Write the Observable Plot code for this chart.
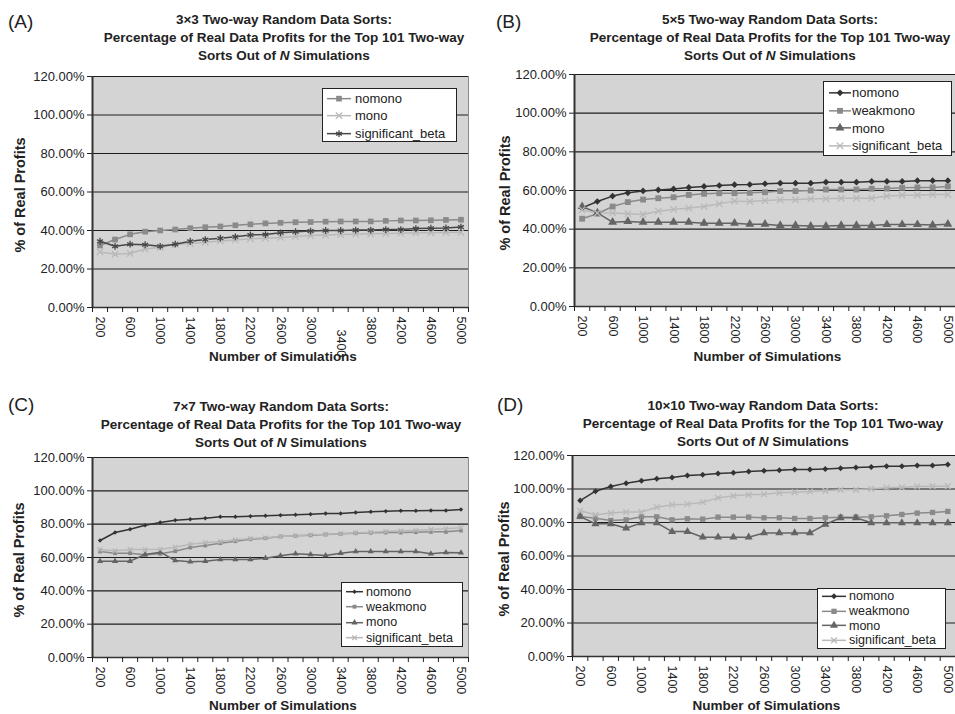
<!DOCTYPE html>
<html><head><meta charset="utf-8">
<script src="https://cdn.jsdelivr.net/npm/d3@7"></script>
<script src="https://cdn.jsdelivr.net/npm/@observablehq/plot@0.6"></script>
<style>
body{margin:0;background:#fff;font-family:"Liberation Sans",Arial,sans-serif;color:#222;}
#root{position:relative;width:955px;height:714px;overflow:hidden;background:#fff;}
.abs{position:absolute;}
.tag{font-size:19px;line-height:19px;}
.title{font-weight:bold;font-size:13.5px;line-height:18px;text-align:center;white-space:nowrap;}
.ytitle{font-weight:bold;font-size:14.5px;white-space:nowrap;transform:translate(-50%,-50%) rotate(-90deg);}
.xtitle{font-weight:bold;font-size:13.5px;line-height:15px;white-space:nowrap;transform:translate(-50%,-50%);}
.legend{background:#fff;border:1px solid #222;box-sizing:border-box;}
.row{display:flex;align-items:center;white-space:nowrap;}
svg.plot{overflow:visible;}
</style></head>
<body><div id="root"></div>
<script>
const sims = [200,400,600,800,1000,1200,1400,1600,1800,2000,2200,2400,2600,2800,3000,3200,3400,3600,3800,4000,4200,4400,4600,4800,5000];
const xLabels = [200,600,1000,1400,1800,2200,2600,3000,3400,3800,4200,4600,5000];
const yTicks = [0,20,40,60,80,100,120];

// Panel A (3x3)
const A_nomono = [32.2,35.3,38.0,39.4,40.0,40.5,41.2,41.7,42.1,42.7,43.2,43.7,44.0,44.3,44.4,44.6,44.7,44.7,44.7,45.0,45.2,45.2,45.3,45.5,45.6];
const A_mono   = [28.9,27.7,28.1,30.4,31.3,32.7,33.2,33.9,34.6,35.1,35.7,36.0,36.4,36.9,37.4,37.6,37.9,38.1,38.3,38.4,38.6,38.8,38.8,39.0,39.1];
const A_sig    = [34.4,31.8,32.9,32.6,31.8,32.9,34.4,35.3,36.0,36.7,37.7,37.9,38.8,39.4,39.7,40.0,40.0,40.2,40.2,40.5,40.5,41.0,41.2,41.3,41.8];
// Panel B (5x5)
const B_nomono = [51.0,54.3,57.1,58.8,59.8,60.3,60.8,61.6,62.1,62.6,63.0,63.1,63.5,63.8,63.8,63.8,64.3,64.3,64.3,64.7,64.7,64.7,65.1,65.1,65.1];
const B_weak   = [45.4,48.0,51.7,54.0,55.3,56.0,56.5,57.7,58.3,58.6,58.6,58.8,59.1,59.7,59.7,60.0,60.5,60.5,60.5,60.9,61.0,61.4,61.6,61.6,62.1];
const B_mono   = [51.7,48.4,43.6,44.0,43.6,43.6,43.6,43.6,43.1,43.1,43.1,42.6,42.6,41.9,41.9,41.6,41.6,41.9,41.9,41.9,42.4,42.4,42.4,42.1,42.6];
const B_sig    = [50.0,48.4,48.4,48.0,47.6,49.3,50.2,50.9,51.7,53.1,54.5,54.3,54.8,55.2,55.2,55.7,55.7,56.0,56.0,56.0,57.1,57.6,57.6,57.9,57.9];
// Panel C (7x7)
const C_nomono = [70.2,75.0,77.0,79.4,81.0,82.4,83.0,83.6,84.4,84.4,84.8,85.0,85.4,85.6,86.0,86.4,86.4,87.0,87.4,87.8,88.0,88.0,88.2,88.2,88.8];
const C_weak   = [63.6,62.6,62.6,61.6,62.2,63.8,66.0,67.2,68.6,69.8,71.0,71.6,72.6,73.0,73.4,73.8,74.2,74.6,74.8,75.0,75.0,75.2,75.4,75.4,76.2];
const C_mono   = [57.8,57.8,57.8,61.8,63.2,58.2,57.4,57.8,58.8,58.8,58.8,59.6,61.0,62.2,61.8,61.2,62.6,63.6,63.6,63.6,63.6,63.6,62.2,63.0,62.8];
const C_sig    = [64.8,64.0,64.8,64.8,65.0,66.2,68.0,68.8,69.6,70.6,71.4,71.8,72.6,73.0,73.6,74.0,74.2,74.8,75.2,75.6,76.0,76.4,76.8,77.2,77.8];
// Panel D (10x10)
const D_nomono = [93.1,98.7,101.5,103.5,104.9,106.1,106.9,108.1,108.5,109.3,109.7,110.4,110.9,111.2,111.6,111.6,112.0,112.4,112.8,113.2,113.6,113.6,114.0,114.0,114.6];
const D_weak   = [83.6,82.6,81.2,81.6,83.4,83.4,81.6,82.2,82.0,83.2,83.2,83.2,82.8,82.8,82.4,82.4,82.8,83.2,83.2,83.4,84.0,84.8,85.6,86.0,86.6];
const D_mono   = [83.6,79.2,79.2,76.6,79.8,79.8,74.6,74.6,71.2,71.2,71.2,71.2,73.8,73.8,73.8,73.8,78.8,82.8,82.8,79.8,79.8,79.8,79.8,79.8,79.8];
const D_sig    = [87.0,84.6,85.6,86.2,86.2,89.1,90.6,90.9,92.1,94.7,95.9,96.5,96.9,97.7,98.1,98.5,98.9,99.5,99.5,100.1,100.7,101.0,101.5,101.7,101.7];

const C_DARK = "#333333", C_MID = "#8a8a8a", C_MONO = "#646464", C_LIGHT = "#b9b9b9";
const root = document.getElementById("root");
const step = sims[1] - sims[0];
const edges = sims.map(s => s - step / 2).concat([sims[sims.length - 1] + step / 2]);

function el(cls, html, style) {
  const d = document.createElement("div");
  d.className = "abs " + cls;
  d.innerHTML = html;
  Object.assign(d.style, style);
  root.appendChild(d);
  return d;
}

function panel(cfg) {
  const rows = [];
  cfg.series.forEach(s => s.values.forEach((v, i) => rows.push({series: s.name, sim: sims[i], v})));
  const marks = [
    Plot.frame({fill: "#d4d4d4", stroke: "#8a8a8a"}),
    Plot.ruleY(yTicks, {stroke: "#1e1e1e", strokeWidth: 1.1})
  ];
  for (const s of cfg.series) {
    marks.push(Plot.line(rows.filter(r => r.series === s.name), {x: "sim", y: "v", stroke: s.color, strokeWidth: 1.5}));
  }
  for (const s of cfg.series) {
    const stroked = s.symbol === "times" || s.symbol === "asterisk";
    marks.push(Plot.dot(rows.filter(r => r.series === s.name), {
      x: "sim", y: "v", symbol: s.symbol, r: s.r,
      fill: stroked ? "none" : s.color, stroke: stroked ? s.color : "none", strokeWidth: stroked ? 1.3 : 0
    }));
  }
  const labs = xLabels.filter(t => t !== cfg.displaced);
  const fmt = d => String(d);
  marks.push(
    Plot.ruleX([edges[0]], {stroke: "#333", strokeWidth: 2}),
    Plot.ruleY([0], {stroke: "#333", strokeWidth: 1.5}),
    Plot.axisY(yTicks, {tickFormat: d => d.toFixed(2) + "%", tickSize: 5, tickPadding: 3, fontSize: 13, label: null}),
    Plot.axisX(edges, {tickSize: 5, tickFormat: () => "", label: null}),
    Plot.axisX(labs, {tickSize: 0, tickRotate: 90, tickPadding: 9, fontSize: 12.5, tickFormat: fmt, label: null})
  );
  if (cfg.displaced) marks.push(Plot.axisX([cfg.displaced], {tickSize: 0, tickRotate: 90, tickPadding: 22, fontSize: 12.5, tickFormat: fmt, label: null}));
  const svg = Plot.plot({
    width: cfg.w, height: cfg.h,
    marginLeft: cfg.ml, marginRight: cfg.mr, marginTop: cfg.mt, marginBottom: cfg.mb,
    style: {fontFamily: "Liberation Sans, Arial, sans-serif", fontSize: "12.5px", color: "#222", background: "transparent", overflow: "visible"},
    x: {domain: [edges[0], edges[edges.length - 1]]},
    y: {domain: [0, 120]},
    marks
  });
  const holder = el("", "", {left: cfg.x + "px", top: cfg.y + "px"});
  holder.appendChild(svg);

  const plotL = cfg.x + cfg.ml, plotR = cfg.x + cfg.w - cfg.mr;
  const plotT = cfg.y + cfg.mt, plotB = cfg.y + cfg.h - cfg.mb;
  el("tag", cfg.tag, {left: cfg.tagX + "px", top: cfg.tagY + "px"});
  el("title", cfg.title.join("<br>"), {left: (cfg.titleX - 200) + "px", width: "400px", top: cfg.titleY + "px"});
  el("ytitle", "% of Real Profits", {left: cfg.yTitleX + "px", top: ((plotT + plotB) / 2 + 3) + "px"});
  el("xtitle", "Number of Simulations", {left: ((plotL + plotR) / 2 + 3) + "px", top: cfg.xTitleY + "px"});

  const L = cfg.legend;
  const lg = el("legend", "", {left: L.x + "px", top: L.y + "px", width: L.w + "px", height: L.h + "px", paddingTop: L.pad + "px", fontSize: L.fs + "px"});
  for (const s of cfg.series) {
    const row = document.createElement("div");
    row.className = "row";
    row.style.height = L.lh + "px";
    const sw = L.sw, sh = L.lh;
    const stroked = s.symbol === "times" || s.symbol === "asterisk";
    const symType = {square: d3.symbolSquare, times: d3.symbolTimes, asterisk: d3.symbolAsterisk, diamond2: d3.symbolDiamond2, triangle: d3.symbolTriangle}[s.symbol];
    const path = d3.symbol(symType, Math.PI * s.r * s.r)();
    row.innerHTML = `<svg width="${sw + L.gap}" height="${sh}" style="flex:none;margin-left:${L.indent}px">
      <line x1="0" x2="${sw}" y1="${sh / 2}" y2="${sh / 2}" stroke="${s.color}" stroke-width="1.5"/>
      <path d="${path}" transform="translate(${sw / 2},${sh / 2})" fill="${stroked ? "none" : s.color}" stroke="${stroked ? s.color : "none"}" stroke-width="1.3"/>
    </svg><span>${s.name}</span>`;
    lg.appendChild(row);
  }
}

const title = n => [`${n}\u00d7${n} Two-way Random Data Sorts:`, "Percentage of Real Data Profits for the Top 101 Two-way", "Sorts Out of <i>N</i> Simulations"];

panel({
  tag: "(A)", tagX: 8, tagY: 12, title: title(3), titleX: 284, titleY: 11,
  x: 0, y: 64, w: 477, h: 300, ml: 92, mr: 9, mt: 12, mb: 57,
  yTitleX: 20, xTitleY: 356, displaced: 3400,
  series: [
    {name: "nomono", values: A_nomono, color: C_MID, symbol: "square", r: 3.2},
    {name: "mono", values: A_mono, color: C_LIGHT, symbol: "times", r: 3},
    {name: "significant_beta", values: A_sig, color: "#474747", symbol: "asterisk", r: 3.2}
  ],
  legend: {x: 322, y: 88, w: 135, h: 54, pad: 1, lh: 17.3, fs: 13, sw: 24, gap: 4, indent: 4}
});
panel({
  tag: "(B)", tagX: 496, tagY: 12, title: title(5), titleX: 770, titleY: 11,
  x: 478, y: 62, w: 477, h: 300, ml: 96, mr: 0, mt: 12, mb: 56,
  yTitleX: 505, xTitleY: 356,
  series: [
    {name: "nomono", values: B_nomono, color: C_DARK, symbol: "diamond2", r: 3},
    {name: "weakmono", values: B_weak, color: C_MID, symbol: "square", r: 3.3},
    {name: "mono", values: B_mono, color: C_MONO, symbol: "triangle", r: 3.3},
    {name: "significant_beta", values: B_sig, color: C_LIGHT, symbol: "times", r: 3}
  ],
  legend: {x: 823, y: 81, w: 129, h: 75, pad: 2, lh: 17.7, fs: 13, sw: 22, gap: 1, indent: 5}
});
panel({
  tag: "(C)", tagX: 8, tagY: 395, title: title(7), titleX: 281, titleY: 398,
  x: 0, y: 445, w: 477, h: 269, ml: 92, mr: 9, mt: 12, mb: 57,
  yTitleX: 19, xTitleY: 705,
  series: [
    {name: "nomono", values: C_nomono, color: C_DARK, symbol: "diamond2", r: 2},
    {name: "weakmono", values: C_weak, color: C_MID, symbol: "square", r: 2.2},
    {name: "mono", values: C_mono, color: C_MONO, symbol: "triangle", r: 2.3},
    {name: "significant_beta", values: C_sig, color: C_LIGHT, symbol: "times", r: 2.2}
  ],
  legend: {x: 341, y: 582, w: 122, h: 65, pad: 1, lh: 15.4, fs: 12.5, sw: 17, gap: 3, indent: 4}
});
panel({
  tag: "(D)", tagX: 497, tagY: 395, title: title(10), titleX: 763, titleY: 397,
  x: 478, y: 443, w: 477, h: 271, ml: 94, mr: 0, mt: 12, mb: 58,
  yTitleX: 504, xTitleY: 705,
  series: [
    {name: "nomono", values: D_nomono, color: C_DARK, symbol: "diamond2", r: 2.7},
    {name: "weakmono", values: D_weak, color: C_MID, symbol: "square", r: 3},
    {name: "mono", values: D_mono, color: C_MONO, symbol: "triangle", r: 3},
    {name: "significant_beta", values: D_sig, color: C_LIGHT, symbol: "times", r: 2.7}
  ],
  legend: {x: 817, y: 588, w: 129, h: 61, pad: 0, lh: 14.7, fs: 12.5, sw: 24, gap: 3, indent: 4}
});
</script></body></html>
